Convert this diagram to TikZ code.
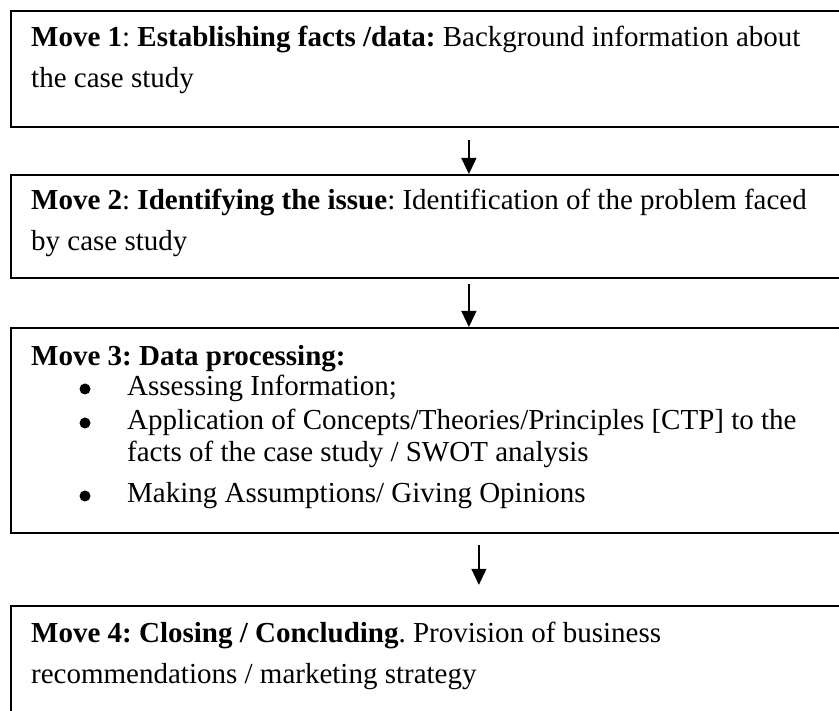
\documentclass[tikz,border=0pt]{standalone}
\usepackage{fontspec}
\setmainfont{Liberation Serif}
\usetikzlibrary{arrows.meta}
\begin{document}
\frenchspacing
\begin{tikzpicture}[x=1pt,y=-1pt,
  box/.style={draw,line width=1.8pt,rectangle,inner sep=0pt,anchor=north west,minimum width=850pt},
  txt/.style={anchor=base west,inner sep=0pt,font=\fontsize{29}{35}\selectfont},
  bul/.style={circle,fill=black,inner sep=0pt,minimum size=11pt},
  arr/.style={line width=1.2pt,-{Triangle[width=15pt,length=16pt]}}]
\clip (0,0) rectangle (839,711);
\fill[white] (0,0) rectangle (839,711);
% boxes
\node[box,minimum height=116pt] (b1) at (10,10) {};
\node[box,minimum height=103pt] (b2) at (10,174) {};
\node[box,minimum height=205pt] (b3) at (10,327) {};
\node[box,minimum height=120pt] (b4) at (10,605) {};
% texts
\node[txt] (t1a) at (31,47) {\textbf{Move 1}: \textbf{Establishing facts /data:} Background information about};
\node[txt] (t1b) at (31,88) {the case study};
\node[txt] (t2a) at (31,210) {\textbf{Move 2}: \textbf{Identifying the issue}: Identification of the problem faced};
\node[txt] (t2b) at (31,251) {by case study};
\node[txt] (t3a) at (31,366) {\textbf{Move 3: Data processing:}};
\node[bul] (k1) at (85,389) {};
\node[txt] (t3b) at (127,396) {Assessing Information;};
\node[bul] (k2) at (85,423) {};
\node[txt] (t3c) at (127,430) {Application of Concepts/Theories/Principles [CTP] to the};
\node[txt] (t3d) at (127,462) {facts of the case study / SWOT analysis};
\node[bul] (k3) at (85,496) {};
\node[txt] (t3e) at (127,503) {Making Assumptions/ Giving Opinions};
\node[txt] (t4a) at (31,642) {\textbf{Move 4: Closing / Concluding}. Provision of business};
\node[txt] (t4b) at (31,683) {recommendations / marketing strategy};
% connectors
\path (b1.south) ++(33,12) coordinate (a1);
\path (b2.south) ++(33,5) coordinate (a2);
\path (b3.south) ++(43,11) coordinate (a3);
\path (a3) ++(0,40) coordinate (a3e);
\draw[arr] (a1) -- (a1 |- b2.north);
\draw[arr] (a2) -- (a2 |- b3.north);
\draw[arr] (a3) -- (a3e);
\end{tikzpicture}
\end{document}
